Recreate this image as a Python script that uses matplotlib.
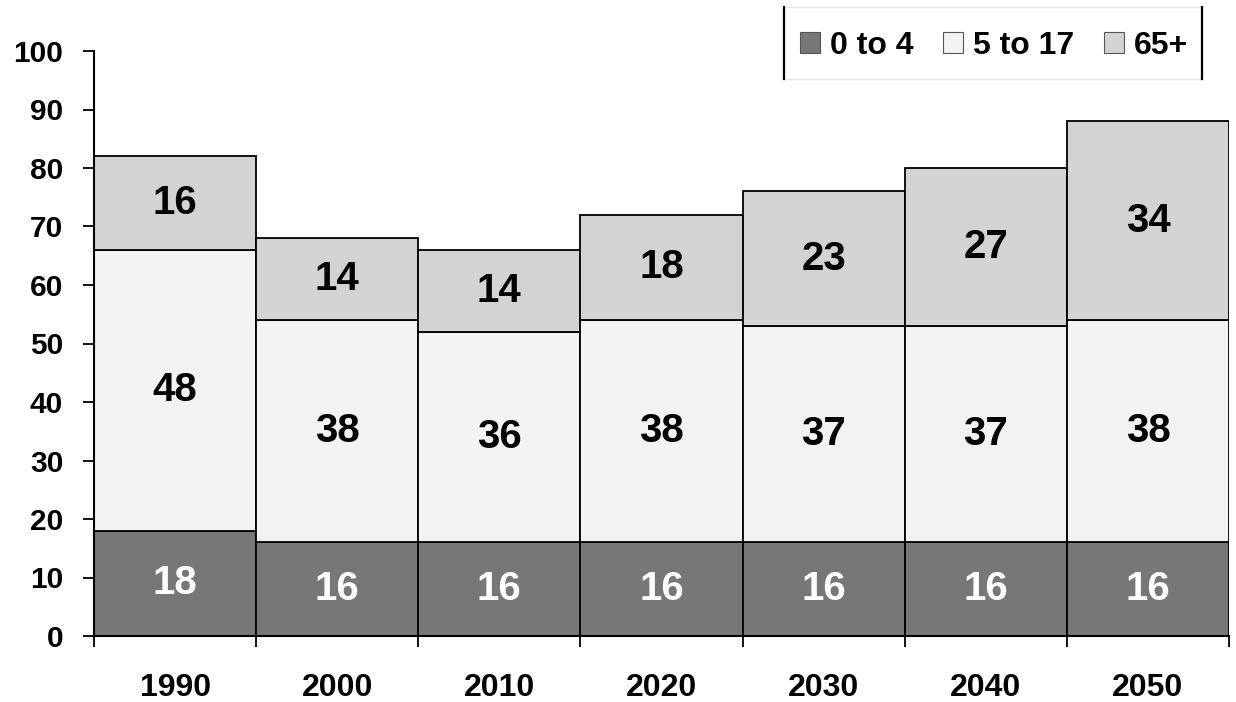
import matplotlib
matplotlib.use("Agg")
import matplotlib.pyplot as plt
from matplotlib.lines import Line2D
from matplotlib.patches import Patch
import numpy as np

years = ["1990", "2000", "2010", "2020", "2030", "2040", "2050"]
age_0_4 = [18, 16, 16, 16, 16, 16, 16]
age_5_17 = [48, 38, 36, 38, 37, 37, 38]
age_65 = [16, 14, 14, 18, 23, 27, 34]
series_names = ["0 to 4", "5 to 17", "65+"]
colors = ["#777777", "#F2F2F2", "#D3D3D3"]
text_colors = ["white", "black", "black"]

plt.rcParams['font.family'] = ['Liberation Sans', 'DejaVu Sans']
plt.rcParams['font.weight'] = 'bold'

W, H = 1236, 702
fig = plt.figure(figsize=(W / 100, H / 100), dpi=100)
ax = fig.add_axes([94 / W, 66 / H, (1229 - 94) / W, (636 - 51) / H])

x = np.arange(len(years))
bottom = np.zeros(len(years))
for vals, col, tc, name in zip([age_0_4, age_5_17, age_65], colors, text_colors, series_names):
    vals = np.array(vals, dtype=float)
    ax.bar(x, vals, width=1.0, bottom=bottom, color=col, edgecolor="black", linewidth=1.3, label=name)
    for xi, b, v in zip(x, bottom, vals):
        ax.text(xi, b + v / 2, f"{int(v)}", ha="center", va="center", fontsize=29, fontweight="bold", color=tc)
    bottom += vals

ax.set_xlim(-0.5, len(years) - 0.5)
ax.set_ylim(0, 100)
ax.set_yticks(np.arange(0, 101, 10))
ax.tick_params(axis='y', labelsize=21.5, length=8.2, width=1.3, pad=14, direction='out')
for lab in ax.get_yticklabels():
    lab.set_fontweight('bold')

ax.set_xticks(np.arange(-0.5, len(years), 1.0))
ax.set_xticklabels([])
ax.tick_params(axis='x', which='major', length=8, width=1.3, direction='out')
ax.set_xticks(x, minor=True)
ax.set_xticklabels(years, minor=True, fontsize=23, fontweight='bold')
ax.tick_params(axis='x', which='minor', length=0, pad=27)

for s in ['top', 'right']:
    ax.spines[s].set_visible(False)
for s in ['left', 'bottom']:
    ax.spines[s].set_linewidth(1.5)

# legend box
x0, x1, y0, y1 = 784 / W, 1202 / W, 1 - 79 / H, 1 - 7 / H
for yy in [y0, y1]:
    fig.add_artist(Line2D([x0, x1], [yy, yy], color='#E6E6E6', linewidth=1.0, transform=fig.transFigure))
for xx in [x0, x1]:
    fig.add_artist(Line2D([xx, xx], [y0, y1], color='black', linewidth=1.6, transform=fig.transFigure))

handles = [Patch(facecolor=c, edgecolor='#555555', linewidth=0.8) for c in colors]
leg = fig.legend(handles=handles, labels=series_names, loc='center',
                 bbox_to_anchor=((x0 + x1) / 2 + 1 / W, (y0 + y1) / 2 - 3 / H),
                 ncol=3, frameon=False,
                 prop={'weight': 'bold', 'size': 23},
                 handlelength=0.63, handleheight=0.63, handletextpad=0.31,
                 columnspacing=0.94, borderpad=0.0, borderaxespad=0.0)

fig.savefig("out.png", dpi=100, facecolor='white')
